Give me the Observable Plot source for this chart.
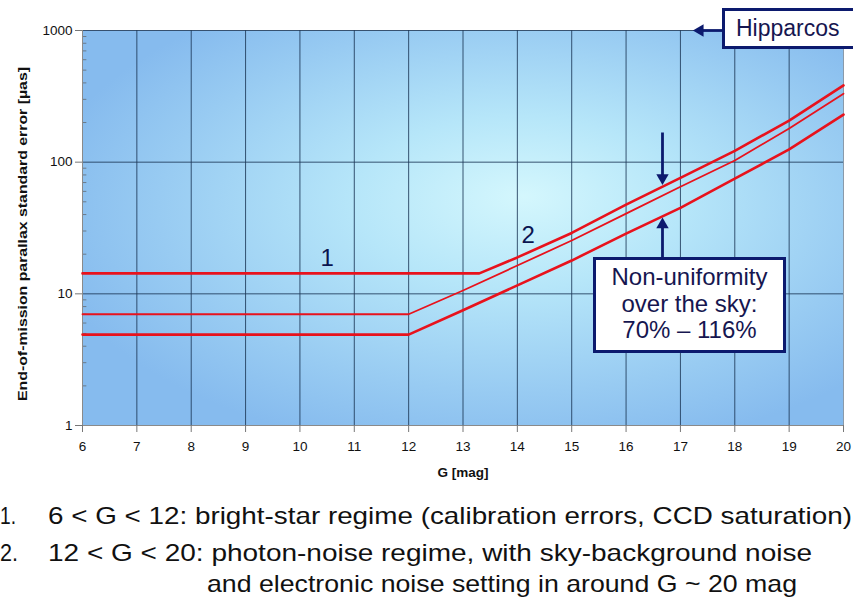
<!DOCTYPE html>
<html>
<head>
<meta charset="utf-8">
<script src="https://cdn.jsdelivr.net/npm/d3@7"></script>
<script src="https://cdn.jsdelivr.net/npm/@observablehq/plot@0.6"></script>
<style>
  body { margin: 0; background: #fff; }
  #wrap { position: relative; width: 853px; height: 601px; overflow: hidden; font-family: "Liberation Sans", Arial, sans-serif; }
  .box { position: absolute; background: #fff; border: 3px solid #0c1a6e; box-sizing: border-box; color: #161650; text-align: center; font-family: "Liberation Sans", Arial, sans-serif; white-space: nowrap; }
</style>
</head>
<body>
<div id="wrap"></div>
<script>
// ---- data ----
const gTicks = [6, 7, 8, 9, 10, 11, 12, 13, 14, 15, 16, 17, 18, 19, 20];
const yTicks = [1, 10, 100, 1000];
const yMinor = [2, 3, 4, 5, 6, 7, 8, 9, 20, 30, 40, 50, 60, 70, 80, 90, 200, 300, 400, 500, 600, 700, 800, 900];

const upperG = [6, 13.3, 14, 15, 16, 17, 18, 19, 20];
const upperErr = [14.3, 14.3, 18.9, 29, 47.6, 76, 122, 207, 383];
const middleG = [6, 12, 13, 14, 15, 16, 17, 18, 19, 20];
const middleErr = [7.0, 7.0, 10.6, 16.4, 25.4, 40.7, 65, 103, 180, 331];
const lowerG = [6, 12, 13, 14, 15, 16, 17, 18, 19, 20];
const lowerErr = [4.9, 4.9, 7.5, 11.6, 17.9, 28.7, 45, 75, 125, 230];

const regimeLabels = [{g: 10.5, err: 18.5, text: "1"}, {g: 14.2, err: 27.7, text: "2"}];
// arrow shafts (start -> head position) and head orientation
const arrows = [
  {g1: 16.67, e1: 168, g2: 16.67, e2: 76, rot: 180},
  {g1: 16.67, e1: 18.9, g2: 16.67, e2: 33.5, rot: 0},
  {g1: 17.77, e1: 1000, g2: 17.36, e2: 1000, rot: -90}
];

const yLabel = "End-of-mission parallax standard error [µas]";
const xLabel = "G [mag]";
const captionLines = [
  {num: "1.", text: "6 < G < 12: bright-star regime (calibration errors, CCD saturation)"},
  {num: "2.", text: "12 < G < 20: photon-noise regime, with sky-background noise"},
  {num: "", text: "and electronic noise setting in around G ~ 20 mag"}
];

const toRows = (gs, es) => gs.map((g, i) => ({g, err: es[i]}));

const navy = "#0c1a6e";
const red = "#e8121c";
const gridColor = "#1d3858";

const chart = Plot.plot({
  width: 853,
  height: 490,
  marginLeft: 82,
  marginRight: 10,
  marginTop: 30,
  marginBottom: 65,
  style: {fontFamily: "'Liberation Sans', Arial, sans-serif", background: "transparent"},
  x: {domain: [6, 20]},
  y: {type: "log", domain: [1, 1000]},
  marks: [
    Plot.frame({fill: "url(#bgGrad)", stroke: null}),
    Plot.ruleX(gTicks.slice(1, -1), {stroke: gridColor, strokeWidth: 1, strokeOpacity: 0.85}),
    Plot.ruleY(yTicks.slice(1), {stroke: gridColor, strokeWidth: 1, strokeOpacity: 0.85}),
    Plot.ruleX([20], {stroke: "#8a9aaa", strokeWidth: 1}),
    Plot.ruleY(yMinor, {x1: 6, x2: 6.08, stroke: "#6a7a8a", strokeWidth: 1}),
    Plot.ruleX([6], {stroke: "#8a8a8a", strokeWidth: 1}),
    Plot.ruleY([1], {stroke: "#8a8a8a", strokeWidth: 1}),
    Plot.axisY({ticks: yTicks, tickFormat: () => "", tickSize: 7, stroke: "#777", label: null}),
    Plot.axisX({ticks: gTicks, tickFormat: () => "", tickSize: 7, stroke: "#777", label: null}),
    Plot.text(yTicks, {y: d => d, text: d => String(d), frameAnchor: "left", textAnchor: "end", dx: -10, fontSize: 13.5, fill: "#111"}),
    Plot.text(gTicks, {x: d => d, text: d => String(d), frameAnchor: "bottom", dy: 25, fontSize: 13.5, fill: "#111"}),
    Plot.line(toRows(lowerG, lowerErr), {x: "g", y: "err", stroke: red, strokeWidth: 2.6}),
    Plot.line(toRows(middleG, middleErr), {x: "g", y: "err", stroke: red, strokeWidth: 1.8}),
    Plot.line(toRows(upperG, upperErr), {x: "g", y: "err", stroke: red, strokeWidth: 2.6}),
    Plot.text(regimeLabels, {x: "g", y: "err", text: "text", fontSize: 24, fill: "#0a1450"}),
    Plot.link(arrows, {x1: "g1", y1: "e1", x2: "g2", y2: "e2", stroke: navy, strokeWidth: 2.8}),
    Plot.dot(arrows, {x: "g2", y: "e2", symbol: "triangle", rotate: "rot", r: 4.6, fill: navy, stroke: null}),
    Plot.text([yLabel], {frameAnchor: "left", textAnchor: "middle", dx: -60, dy: 6, rotate: -90, fontSize: 13.5, fontWeight: "bold", fill: "#111"}),
    Plot.text([xLabel], {frameAnchor: "bottom", dy: 51, fontSize: 13.5, fontWeight: "bold", fill: "#111"})
  ]
});

// stretch the y-axis title to the reference's length
chart.querySelectorAll("text").forEach(t => {
  if (t.textContent === yLabel) {
    t.setAttribute("textLength", 334);
    t.setAttribute("lengthAdjust", "spacingAndGlyphs");
  }
});

// background gradient definition
const ns = "http://www.w3.org/2000/svg";
const defs = document.createElementNS(ns, "defs");
defs.innerHTML = `
  <radialGradient id="bgGrad" cx="56%" cy="46%" r="62%" fx="58%" fy="42%">
    <stop offset="0%" stop-color="#d4f7fd"/>
    <stop offset="35%" stop-color="#b6e6f9"/>
    <stop offset="75%" stop-color="#98cbf2"/>
    <stop offset="100%" stop-color="#86bbee"/>
  </radialGradient>`;
chart.insertBefore(defs, chart.firstChild);

const wrap = document.getElementById("wrap");
chart.style.position = "absolute";
chart.style.left = "0px";
chart.style.top = "0px";
wrap.appendChild(chart);

// annotation boxes
const hip = document.createElement("div");
hip.className = "box";
Object.assign(hip.style, {left: "722px", top: "8px", width: "140px", height: "41px", fontSize: "23px", lineHeight: "35px", textAlign: "left", paddingLeft: "11px"});
hip.textContent = "Hipparcos";
wrap.appendChild(hip);

const nu = document.createElement("div");
nu.className = "box";
Object.assign(nu.style, {left: "593px", top: "257px", width: "193px", height: "96px", fontSize: "24px", lineHeight: "26.5px", paddingTop: "4px"});
nu.innerHTML = "Non-uniformity<br>over the sky:<br>70% – 116%";
wrap.appendChild(nu);

// caption below the chart
const cap = document.createElementNS(ns, "svg");
cap.setAttribute("width", 853);
cap.setAttribute("height", 111);
cap.style.position = "absolute";
cap.style.left = "0px";
cap.style.top = "490px";
const capPos = [
  {numX: 0, numLen: 16, x: 48, y: 34, len: 804},
  {numX: 0, numLen: 18, x: 48, y: 71, len: 764},
  {numX: 0, numLen: 0, x: 207, y: 102, len: 590}
];
const capFont = "'Liberation Sans Narrow', 'Liberation Sans', Arial, sans-serif";
captionLines.forEach((l, i) => {
  const p = capPos[i];
  if (l.num) {
    const t = document.createElementNS(ns, "text");
    t.setAttribute("x", p.numX); t.setAttribute("y", p.y);
    t.setAttribute("font-size", 24);
    t.setAttribute("font-family", capFont);
    t.setAttribute("fill", "#111");
    t.setAttribute("textLength", p.numLen);
    t.setAttribute("lengthAdjust", "spacingAndGlyphs");
    t.textContent = l.num;
    cap.appendChild(t);
  }
  const t = document.createElementNS(ns, "text");
  t.setAttribute("x", p.x); t.setAttribute("y", p.y);
  t.setAttribute("font-size", 24);
  t.setAttribute("font-family", capFont);
  t.setAttribute("fill", "#111");
  t.setAttribute("textLength", p.len);
  t.setAttribute("lengthAdjust", "spacingAndGlyphs");
  t.textContent = l.text;
  cap.appendChild(t);
});
wrap.appendChild(cap);
</script>
</body>
</html>
